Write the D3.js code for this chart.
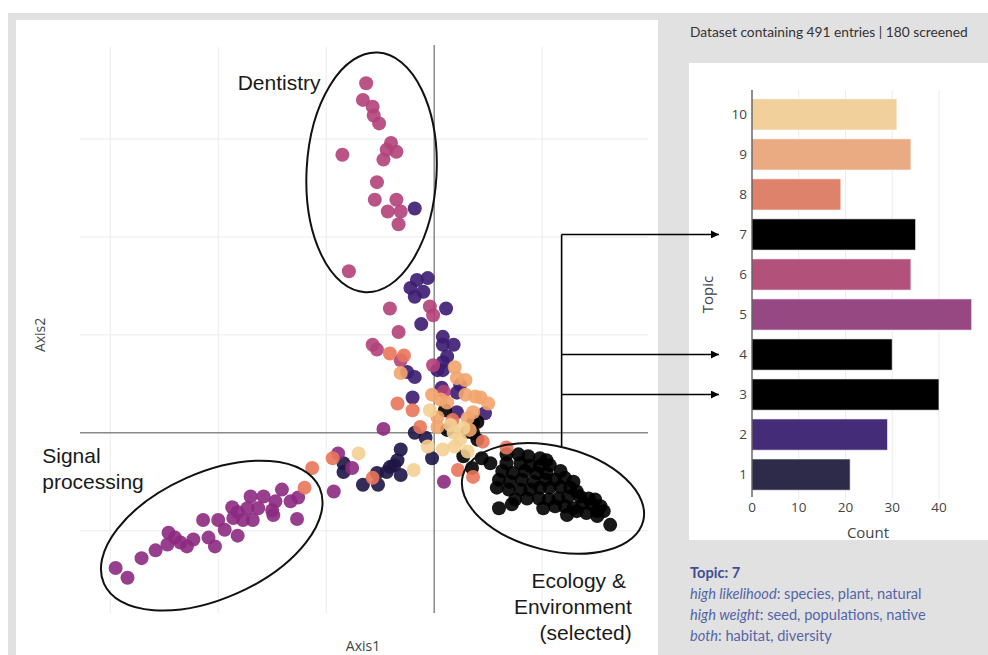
<!DOCTYPE html>
<html>
<head>
<meta charset="utf-8">
<script src="https://cdn.jsdelivr.net/npm/d3@7"></script>
<style>
  body { margin: 0; background: #fff; }
  svg { display: block; }
</style>
</head>
<body>
<script>
// ---- topic counts (bar chart) ----
const topics = [1, 2, 3, 4, 5, 6, 7, 8, 9, 10];
const topicCounts = [21, 29, 40, 30, 47, 34, 35, 19, 34, 31];
const selectedTopics = [3, 4, 7];
const countTicks = [0, 10, 20, 30, 40];

// ---- document positions [Axis1, Axis2], one list per topic ----
const topic1Docs = [
  [-0.18, 0.00], [-0.08, -0.05], [-0.02, -0.26], [-0.31, -0.17], [-0.34, -0.28],
  [-0.41, -0.35], [-0.44, -0.40], [-0.31, -0.43], [-0.53, -0.41], [-0.52, -0.53],
  [-0.66, -0.53], [-0.84, -0.31], [-0.84, -0.40], [-0.37, -0.33],
];
const topic2Docs = [
  [-0.18, 2.29], [-0.16, 1.56], [-0.06, 1.58], [-0.18, 1.39], [-0.10, 1.44],
  [-0.22, 1.48], [0.11, 1.27], [-0.12, 1.11], [0.08, 0.98], [0.18, 0.90],
  [0.08, 0.90], [0.12, 0.78], [0.08, 0.72], [-0.25, 0.62], [-0.18, 0.57],
  [0.03, 0.64], [0.08, 0.64], [0.24, 0.49], [0.07, 0.46], [0.21, 0.41],
  [-0.20, 0.36], [0.21, 0.21], [0.47, 0.20],
];
const topic3Docs = [
  [0.58, -0.56], [0.69, -0.58], [0.80, -0.58], [0.89, -0.58], [0.98, -0.56],
  [1.07, -0.56], [1.17, -0.55], [1.26, -0.56], [1.32, -0.60], [0.75, -0.68],
  [0.86, -0.67], [0.97, -0.67], [1.06, -0.68], [1.15, -0.67], [1.24, -0.65],
  [1.35, -0.65], [1.43, -0.67], [1.49, -0.68], [1.21, -0.75], [1.29, -0.77],
  [1.38, -0.72], [1.46, -0.73], [1.54, -0.75],
];
const topic4Docs = [
  [0.36, 0.10], [0.40, 0.11], [0.12, 0.03], [0.31, 0.01], [0.36, 0.00],
  [0.40, -0.07], [0.27, -0.24], [0.44, -0.26], [0.52, -0.31], [0.35, -0.36],
  [0.10, 0.23], [1.23, -0.84], [1.32, -0.80], [1.41, -0.82], [1.51, -0.80],
  [1.57, -0.80], [1.51, -0.85], [0.60, -0.77], [1.63, -0.94], [1.12, -0.75],
  [0.72, -0.73], [1.01, -0.77],
];
const topic5Docs = [
  [-1.41, -0.58], [-1.26, -0.66], [-1.33, -0.70], [-1.47, -0.70], [-1.58, -0.65],
  [-1.70, -0.65], [-1.63, -0.77], [-1.50, -0.79], [-1.49, -0.84], [-1.73, -0.77],
  [-1.87, -0.76], [-1.82, -0.81], [-1.86, -0.87], [-1.77, -0.89], [-1.68, -0.89],
  [-1.27, -0.88], [-2.00, -0.89], [-2.14, -0.89], [-1.82, -1.05], [-2.09, -1.07],
  [-2.03, -1.16], [-2.23, -1.09], [-2.29, -1.16], [-2.35, -1.12], [-2.40, -1.07],
  [-2.46, -1.02], [-2.47, -1.14], [-2.58, -1.20], [-2.71, -1.28], [-2.95, -1.38],
  [-2.84, -1.48], [-1.94, -0.99], [-0.89, -0.21], [-0.93, -0.60], [-0.76, -0.36],
  [-0.47, 0.04], [0.09, -0.50],
];
const topic6Docs = [
  [-0.63, 3.57], [-0.66, 3.40], [-0.57, 3.33], [-0.56, 3.24], [-0.51, 3.16],
  [-0.40, 2.96], [-0.85, 2.84], [-0.44, 2.89], [-0.35, 2.87], [-0.47, 2.79],
  [-0.53, 2.56], [-0.35, 2.38], [-0.55, 2.38], [-0.43, 2.26], [-0.31, 2.26],
  [-0.33, 2.13], [-0.79, 1.65], [-0.41, 1.27], [-0.04, 1.29], [-0.01, 1.20],
  [-0.33, 1.03], [-0.57, 0.90], [-0.53, 0.85], [-0.31, 0.74], [-0.01, 0.69],
  [0.09, 0.42],
];
const topic7Docs = [
  [0.67, -0.22], [0.78, -0.22], [0.87, -0.24], [0.98, -0.26], [1.04, -0.28],
  [0.67, -0.31], [0.80, -0.31], [0.89, -0.34], [0.98, -0.34], [1.07, -0.33],
  [0.63, -0.39], [0.73, -0.41], [0.84, -0.39], [0.95, -0.41], [1.04, -0.41],
  [1.17, -0.39], [0.60, -0.48], [0.70, -0.50], [0.81, -0.48], [0.92, -0.50],
  [1.03, -0.48], [1.12, -0.48], [1.21, -0.46], [1.29, -0.50],
];
const topic8Docs = [
  [-0.41, 0.81], [-0.28, 0.79], [-0.34, 0.30], [-0.20, 0.23], [0.17, 0.13],
  [-0.13, 0.06], [0.45, -0.09], [-0.57, -0.46], [-0.94, -0.26], [-1.13, -0.36],
  [-1.20, -0.56], [0.22, -0.38], [0.36, -0.45], [0.67, -0.15],
];
const topic9Docs = [
  [-0.31, 0.61], [0.19, 0.67], [0.21, 0.56], [0.29, 0.54], [-0.02, 0.39],
  [0.06, 0.34], [0.12, 0.31], [0.29, 0.39], [0.38, 0.37], [0.43, 0.36],
  [0.36, 0.21], [0.03, 0.16], [0.31, 0.15], [0.03, 0.06], [0.50, 0.30],
  [0.33, 0.03],
];
const topic10Docs = [
  [-0.04, 0.23], [0.18, 0.00], [0.24, -0.07], [-0.06, -0.14], [0.08, -0.17],
  [0.19, -0.14], [0.31, -0.19], [-0.19, -0.38], [-0.70, -0.21], [0.15, 0.08],
  [0.27, 0.05],
];
const docsByTopic = [topic1Docs, topic2Docs, topic3Docs, topic4Docs, topic5Docs,
  topic6Docs, topic7Docs, topic8Docs, topic9Docs, topic10Docs];

// ---- colours ----
const pointColors = ['#1e1546', '#3b1c71', '#000', '#000', '#8c2981',
  '#b2417a', '#000', '#e8765a', '#f2a46b', '#f5cf92'];
const barColors = ['#2e2a4a', '#442c78', '#000', '#000', '#964883',
  '#b2527b', '#000', '#df826c', '#ebab82', '#f1d09c'];

// ---- annotated regions on the scatter (centres in axis units) ----
const regionEllipses = [
  { cx: -0.58, cy: 2.66, rx: 65, ry: 120, angle: 3 },
  { cx: -2.06, cy: -1.05, rx: 118, ry: 63, angle: -24 },
  { cx: 1.10, cy: -0.67, rx: 93, ry: 52, angle: 14 },
];
const regionLabels = [
  { lines: ['Dentistry'], x: -1.82, y: 3.50, anchor: 'start' },
  { lines: ['Signal', 'processing'], x: -3.63, y: -0.31, anchor: 'start' },
  { lines: ['Ecology & ', 'Environment', '(selected)'], x: 1.83, y: -1.58, anchor: 'end' },
];
const connectorX = 1.18;

const W = 988;
const H = 655;

const svg = d3.select('body').append('svg')
  .attr('width', W)
  .attr('height', H);

// background panels
svg.append('rect').attr('x', 8).attr('y', 13).attr('width', W - 8).attr('height', H - 13)
  .attr('fill', '#e1e1e1');
svg.append('rect').attr('x', 16).attr('y', 20).attr('width', 642).attr('height', H - 20)
  .attr('fill', '#fff');
svg.append('rect').attr('x', 689).attr('y', 63).attr('width', W - 689).attr('height', 477)
  .attr('fill', '#fff');

// ================= scatter =================
const x = d3.scaleLinear().domain([-3.28, 1.98]).range([80, 648]);
const y = d3.scaleLinear().domain([-1.84, 3.94]).range([613, 47]);

const grid = svg.append('g');
grid.selectAll('line.vx')
  .data([-3, -2, -1, 1])
  .join('line')
  .attr('x1', d => x(d)).attr('x2', d => x(d))
  .attr('y1', y.range()[1]).attr('y2', y.range()[0])
  .attr('stroke', '#ececec');
grid.selectAll('line.hy')
  .data([-1, 1, 2, 3])
  .join('line')
  .attr('class', 'hy')
  .attr('x1', x.range()[0]).attr('x2', x.range()[1])
  .attr('y1', d => y(d)).attr('y2', d => y(d))
  .attr('stroke', '#ececec');

// zero lines
svg.append('line')
  .attr('x1', x(0)).attr('x2', x(0))
  .attr('y1', y.range()[1] - 2).attr('y2', y.range()[0])
  .attr('stroke', '#888').attr('stroke-width', 1.5);
svg.append('line')
  .attr('x1', x.range()[0]).attr('x2', x.range()[1])
  .attr('y1', y(0)).attr('y2', y(0))
  .attr('stroke', '#888').attr('stroke-width', 1.5);

// points
const docs = [];
docsByTopic.forEach((list, i) => {
  list.forEach((p) => docs.push({ topic: topics[i], a1: p[0], a2: p[1] }));
});

svg.append('g')
  .selectAll('circle')
  .data(docs)
  .join('circle')
  .attr('cx', d => x(d.a1))
  .attr('cy', d => y(d.a2))
  .attr('r', 7)
  .attr('fill', d => pointColors[d.topic - 1])
  .attr('fill-opacity', 0.9);

// axis titles
svg.append('text')
  .attr('x', 363).attr('y', 651)
  .attr('text-anchor', 'middle')
  .style('font', '14px "Open Sans", sans-serif')
  .attr('fill', '#444')
  .text('Axis1');
svg.append('text')
  .attr('transform', `translate(45,${y(1)}) rotate(-90)`)
  .attr('text-anchor', 'middle')
  .style('font', '14px "Open Sans", sans-serif')
  .attr('fill', '#444')
  .text('Axis2');

// region ellipses
svg.append('g')
  .selectAll('ellipse')
  .data(regionEllipses)
  .join('ellipse')
  .attr('transform', d => `translate(${x(d.cx)},${y(d.cy)}) rotate(${d.angle})`)
  .attr('rx', d => d.rx)
  .attr('ry', d => d.ry)
  .attr('fill', 'none')
  .attr('stroke', '#111')
  .attr('stroke-width', 2);

regionLabels.forEach((lab) => {
  const t = svg.append('text')
    .attr('x', x(lab.x))
    .attr('y', y(lab.y))
    .attr('text-anchor', lab.anchor)
    .style('font', '21px "Liberation Sans", Arial, sans-serif')
    .attr('fill', '#1a1a1a')
    .attr('xml:space', 'preserve');
  lab.lines.forEach((line, i) => {
    t.append('tspan')
      .attr('x', x(lab.x))
      .attr('dy', i === 0 ? 0 : 26)
      .text(line);
  });
});

// ================= bar chart =================
const bx = d3.scaleLinear().domain([0, 47.5]).range([752, 974]);
const by = d3.scaleBand().domain(topics.slice().reverse()).range([90, 499]).padding(0.22);

svg.append('g')
  .selectAll('line')
  .data(countTicks.slice(1))
  .join('line')
  .attr('x1', d => bx(d)).attr('x2', d => bx(d))
  .attr('y1', 90).attr('y2', 499)
  .attr('stroke', '#ececec');

svg.append('g')
  .selectAll('rect')
  .data(topics)
  .join('rect')
  .attr('x', bx(0))
  .attr('y', d => by(d))
  .attr('width', (d, i) => bx(topicCounts[i]) - bx(0))
  .attr('height', by.bandwidth())
  .attr('fill', (d, i) => (selectedTopics.includes(d) ? '#000' : barColors[i]))
  .attr('stroke', '#fff')
  .attr('stroke-opacity', 0.6)
  .attr('stroke-width', 1);

svg.append('line')
  .attr('x1', bx(0)).attr('x2', bx(0))
  .attr('y1', 90).attr('y2', 497)
  .attr('stroke', '#444').attr('stroke-width', 1.2);

svg.append('g')
  .selectAll('text')
  .data(topics)
  .join('text')
  .attr('x', bx(0) - 5)
  .attr('y', d => by(d) + by.bandwidth() / 2)
  .attr('dy', '0.35em')
  .attr('text-anchor', 'end')
  .style('font', '13.5px "Open Sans", sans-serif')
  .attr('fill', '#444')
  .text(d => d);

svg.append('g')
  .selectAll('text')
  .data(countTicks)
  .join('text')
  .attr('x', d => bx(d))
  .attr('y', 512)
  .attr('text-anchor', 'middle')
  .style('font', '13.5px "Open Sans", sans-serif')
  .attr('fill', '#444')
  .text(d => d);

svg.append('text')
  .attr('x', 868).attr('y', 538)
  .attr('text-anchor', 'middle')
  .style('font', '15px "Open Sans", sans-serif')
  .attr('fill', '#444')
  .text('Count');
svg.append('text')
  .attr('transform', `translate(713,${(90 + 499) / 2}) rotate(-90)`)
  .attr('text-anchor', 'middle')
  .style('font', '15px "Open Sans", sans-serif')
  .attr('fill', '#444')
  .text('Topic');

// ================= connectors from selected cluster to bars =================
const eco = regionEllipses[2];
const cxPx = x(connectorX);
// find top of the ecology ellipse at the connector's x
let topY = y(eco.cy);
const th = eco.angle * Math.PI / 180;
for (let k = 0; k < 720; k += 1) {
  const t = (k / 720) * 2 * Math.PI;
  const px = x(eco.cx) + eco.rx * Math.cos(t) * Math.cos(th) - eco.ry * Math.sin(t) * Math.sin(th);
  const py = y(eco.cy) + eco.rx * Math.cos(t) * Math.sin(th) + eco.ry * Math.sin(t) * Math.cos(th);
  if (Math.abs(px - cxPx) < 1 && py < topY) topY = py;
}

svg.append('defs').append('marker')
  .attr('id', 'arrow')
  .attr('viewBox', '0 0 10 10')
  .attr('refX', 10).attr('refY', 5)
  .attr('markerWidth', 5).attr('markerHeight', 5)
  .attr('orient', 'auto')
  .append('path')
  .attr('d', 'M0,0L10,5L0,10z')
  .attr('fill', '#000');

const arrowYs = selectedTopics.map(t => by(t) + by.bandwidth() / 2);
svg.append('line')
  .attr('x1', cxPx).attr('x2', cxPx)
  .attr('y1', d3.min(arrowYs)).attr('y2', topY)
  .attr('stroke', '#000').attr('stroke-width', 1.6);
svg.append('g')
  .selectAll('line')
  .data(arrowYs)
  .join('line')
  .attr('x1', cxPx).attr('x2', bx(0) - 33)
  .attr('y1', d => d).attr('y2', d => d)
  .attr('stroke', '#000').attr('stroke-width', 1.6)
  .attr('marker-end', 'url(#arrow)');

// ================= side texts =================
svg.append('text')
  .attr('x', 690).attr('y', 37)
  .style('font', '13.75px Lato, "Noto Sans", sans-serif')
  .attr('fill', '#333')
  .text('Dataset containing 491 entries | 180 screened');

const info = svg.append('text')
  .attr('x', 690).attr('y', 578)
  .style('font', '14.6px Lato, "Noto Sans", sans-serif')
  .attr('fill', '#5465a8');
info.append('tspan').attr('x', 690).attr('font-weight', 'bold').attr('fill', '#3f4f95')
  .text('Topic: 7');
const infoLines = [
  ['high likelihood', ': species, plant, natural'],
  ['high weight', ': seed, populations, native'],
  ['both', ': habitat, diversity'],
];
infoLines.forEach((l) => {
  const row = info.append('tspan').attr('x', 690).attr('dy', 21);
  row.append('tspan').attr('font-style', 'italic').text(l[0]);
  row.append('tspan').text(l[1]);
});
</script>
</body>
</html>
